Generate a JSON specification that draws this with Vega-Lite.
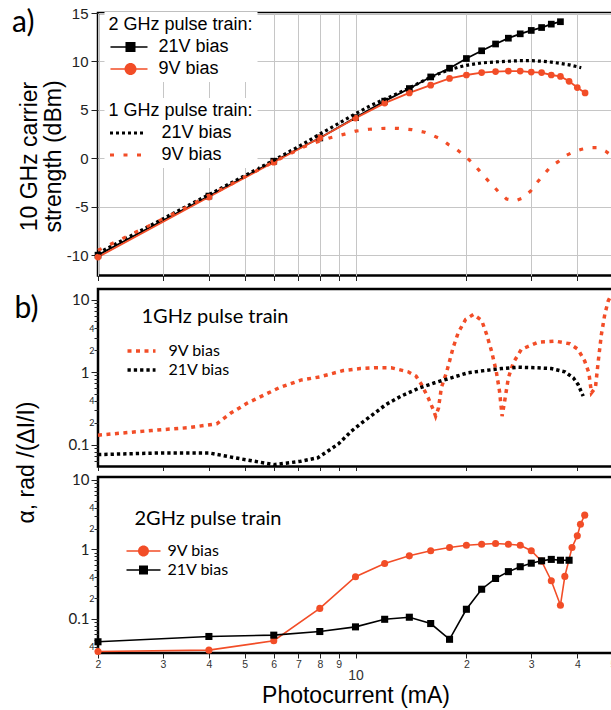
{
  "$schema": "https://vega.github.io/schema/vega-lite/v6.json",
  "autosize": {"type": "pad"},
  "padding": {"left": 10, "top": 4, "right": 0, "bottom": 0},
  "background": "white",
  "config": {
    "view": {"stroke": "black", "strokeWidth": 2.5},
    "axis": {"domain": false, "grid": false, "labelFlush": false, "labelOverlap": false, "tickColor": "#222", "labelColor": "#222", "titleColor": "black", "titleFontWeight": "normal", "labelFont": "Liberation Sans", "titleFont": "Liberation Sans"},
    "legend": {"titleFontWeight": "normal", "titleColor": "black", "labelColor": "black", "orient": "none", "symbolOpacity": 1, "titleLimit": 300},
    "title": {"fontWeight": "normal", "color": "black", "font": "Lato"}
  },
  "datasets": {
    "a2": [
      {"x": 2, "y": -10.0, "bias": "21V bias"}, {"x": 4, "y": -3.9, "bias": "21V bias"}, {"x": 6, "y": -0.3, "bias": "21V bias"}, {"x": 8, "y": 2.1, "bias": "21V bias"}, {"x": 10, "y": 4.2, "bias": "21V bias"}, {"x": 12, "y": 5.9, "bias": "21V bias"}, {"x": 14, "y": 7.2, "bias": "21V bias"}, {"x": 16, "y": 8.4, "bias": "21V bias"}, {"x": 18, "y": 9.3, "bias": "21V bias"}, {"x": 20, "y": 10.3, "bias": "21V bias"}, {"x": 22, "y": 11.1, "bias": "21V bias"}, {"x": 24, "y": 11.8, "bias": "21V bias"}, {"x": 26, "y": 12.4, "bias": "21V bias"}, {"x": 28, "y": 12.85, "bias": "21V bias"}, {"x": 30, "y": 13.2, "bias": "21V bias"}, {"x": 32, "y": 13.5, "bias": "21V bias"}, {"x": 34, "y": 13.85, "bias": "21V bias"}, {"x": 36, "y": 14.1, "bias": "21V bias"},
      {"x": 2, "y": -10.2, "bias": "9V bias"}, {"x": 4, "y": -4.0, "bias": "9V bias"}, {"x": 6, "y": -0.4, "bias": "9V bias"}, {"x": 8, "y": 2.1, "bias": "9V bias"}, {"x": 10, "y": 4.15, "bias": "9V bias"}, {"x": 12, "y": 5.7, "bias": "9V bias"}, {"x": 14, "y": 6.75, "bias": "9V bias"}, {"x": 16, "y": 7.55, "bias": "9V bias"}, {"x": 18, "y": 8.25, "bias": "9V bias"}, {"x": 20, "y": 8.6, "bias": "9V bias"}, {"x": 22, "y": 8.85, "bias": "9V bias"}, {"x": 24, "y": 8.95, "bias": "9V bias"}, {"x": 26, "y": 9.0, "bias": "9V bias"}, {"x": 28, "y": 9.0, "bias": "9V bias"}, {"x": 30, "y": 8.9, "bias": "9V bias"}, {"x": 32, "y": 8.85, "bias": "9V bias"}, {"x": 34, "y": 8.6, "bias": "9V bias"}, {"x": 36, "y": 8.45, "bias": "9V bias"}, {"x": 38, "y": 7.95, "bias": "9V bias"}, {"x": 40, "y": 7.3, "bias": "9V bias"}, {"x": 42, "y": 6.75, "bias": "9V bias"}
    ],
    "a1": [
      {"x": 2, "y": -9.8, "bias": "21V bias"}, {"x": 2.5, "y": -7.85, "bias": "21V bias"}, {"x": 3, "y": -6.25, "bias": "21V bias"}, {"x": 3.5, "y": -4.9, "bias": "21V bias"}, {"x": 4, "y": -3.75, "bias": "21V bias"}, {"x": 5, "y": -1.8, "bias": "21V bias"}, {"x": 6, "y": -0.2, "bias": "21V bias"}, {"x": 7, "y": 1.2, "bias": "21V bias"}, {"x": 8, "y": 2.5, "bias": "21V bias"}, {"x": 9, "y": 3.6, "bias": "21V bias"}, {"x": 10, "y": 4.6, "bias": "21V bias"}, {"x": 11, "y": 5.45, "bias": "21V bias"}, {"x": 12, "y": 6.1, "bias": "21V bias"}, {"x": 13, "y": 6.7, "bias": "21V bias"}, {"x": 14, "y": 7.25, "bias": "21V bias"}, {"x": 15, "y": 7.85, "bias": "21V bias"}, {"x": 16, "y": 8.35, "bias": "21V bias"}, {"x": 17, "y": 8.8, "bias": "21V bias"}, {"x": 18, "y": 9.15, "bias": "21V bias"}, {"x": 19, "y": 9.4, "bias": "21V bias"}, {"x": 20, "y": 9.6, "bias": "21V bias"}, {"x": 22, "y": 9.85, "bias": "21V bias"}, {"x": 24, "y": 9.95, "bias": "21V bias"}, {"x": 26, "y": 10.02, "bias": "21V bias"}, {"x": 28, "y": 10.08, "bias": "21V bias"}, {"x": 30, "y": 10.08, "bias": "21V bias"}, {"x": 32, "y": 10.02, "bias": "21V bias"}, {"x": 34, "y": 9.93, "bias": "21V bias"}, {"x": 36, "y": 9.8, "bias": "21V bias"}, {"x": 38, "y": 9.65, "bias": "21V bias"}, {"x": 40, "y": 9.45, "bias": "21V bias"}, {"x": 41, "y": 9.35, "bias": "21V bias"},
      {"x": 2, "y": -9.5, "bias": "9V bias"}, {"x": 2.24, "y": -8.6, "bias": "9V bias"}, {"x": 2.74, "y": -7.0, "bias": "9V bias"}, {"x": 3.37, "y": -5.3, "bias": "9V bias"}, {"x": 4.06, "y": -3.75, "bias": "9V bias"}, {"x": 5.05, "y": -1.85, "bias": "9V bias"}, {"x": 6.2, "y": -0.1, "bias": "9V bias"}, {"x": 6.75, "y": 0.6, "bias": "9V bias"}, {"x": 7.15, "y": 1.1, "bias": "9V bias"}, {"x": 7.7, "y": 1.55, "bias": "9V bias"}, {"x": 8.5, "y": 2.1, "bias": "9V bias"}, {"x": 9.35, "y": 2.5, "bias": "9V bias"}, {"x": 10, "y": 2.8, "bias": "9V bias"}, {"x": 10.9, "y": 3.0, "bias": "9V bias"}, {"x": 12, "y": 3.1, "bias": "9V bias"}, {"x": 13.1, "y": 3.08, "bias": "9V bias"}, {"x": 14.2, "y": 2.96, "bias": "9V bias"}, {"x": 15.4, "y": 2.69, "bias": "9V bias"}, {"x": 16.25, "y": 2.34, "bias": "9V bias"}, {"x": 17.1, "y": 1.96, "bias": "9V bias"}, {"x": 17.85, "y": 1.44, "bias": "9V bias"}, {"x": 18.8, "y": 0.93, "bias": "9V bias"}, {"x": 19.7, "y": 0.34, "bias": "9V bias"}, {"x": 20.6, "y": -0.35, "bias": "9V bias"}, {"x": 21.6, "y": -1.2, "bias": "9V bias"}, {"x": 22.5, "y": -2.0, "bias": "9V bias"}, {"x": 23.5, "y": -2.75, "bias": "9V bias"}, {"x": 24.5, "y": -3.5, "bias": "9V bias"}, {"x": 25.7, "y": -4.2, "bias": "9V bias"}, {"x": 27.1, "y": -4.4, "bias": "9V bias"}, {"x": 28.4, "y": -4.12, "bias": "9V bias"}, {"x": 29.9, "y": -3.37, "bias": "9V bias"}, {"x": 31.1, "y": -2.5, "bias": "9V bias"}, {"x": 32.4, "y": -1.72, "bias": "9V bias"}, {"x": 33.8, "y": -0.9, "bias": "9V bias"}, {"x": 35.5, "y": -0.35, "bias": "9V bias"}, {"x": 37.2, "y": 0.27, "bias": "9V bias"}, {"x": 39.2, "y": 0.68, "bias": "9V bias"}, {"x": 41.1, "y": 0.93, "bias": "9V bias"}, {"x": 43.3, "y": 1.1, "bias": "9V bias"}, {"x": 45.4, "y": 1.1, "bias": "9V bias"}, {"x": 47.7, "y": 0.75, "bias": "9V bias"}, {"x": 50, "y": 0.15, "bias": "9V bias"}
    ],
    "b1": [
      {"x": 2, "y": 0.135, "bias": "9V bias"}, {"x": 2.8, "y": 0.157, "bias": "9V bias"}, {"x": 3.5, "y": 0.171, "bias": "9V bias"}, {"x": 4.2, "y": 0.194, "bias": "9V bias"}, {"x": 4.6, "y": 0.275, "bias": "9V bias"}, {"x": 5.1, "y": 0.377, "bias": "9V bias"}, {"x": 6.2, "y": 0.608, "bias": "9V bias"}, {"x": 7.1, "y": 0.776, "bias": "9V bias"}, {"x": 8.0, "y": 0.86, "bias": "9V bias"}, {"x": 9.26, "y": 1.05, "bias": "9V bias"}, {"x": 10.3, "y": 1.12, "bias": "9V bias"}, {"x": 11.4, "y": 1.15, "bias": "9V bias"}, {"x": 12.5, "y": 1.15, "bias": "9V bias"}, {"x": 13.9, "y": 1.01, "bias": "9V bias"}, {"x": 14.6, "y": 0.88, "bias": "9V bias"}, {"x": 15.1, "y": 0.676, "bias": "9V bias"}, {"x": 15.75, "y": 0.442, "bias": "9V bias"}, {"x": 16.25, "y": 0.306, "bias": "9V bias"}, {"x": 16.5, "y": 0.247, "bias": "9V bias"}, {"x": 16.8, "y": 0.32, "bias": "9V bias"}, {"x": 17.1, "y": 0.608, "bias": "9V bias"}, {"x": 17.7, "y": 1.03, "bias": "9V bias"}, {"x": 18.4, "y": 2.16, "bias": "9V bias"}, {"x": 19.0, "y": 3.49, "bias": "9V bias"}, {"x": 19.9, "y": 5.33, "bias": "9V bias"}, {"x": 20.9, "y": 6.25, "bias": "9V bias"}, {"x": 22.0, "y": 5.17, "bias": "9V bias"}, {"x": 22.7, "y": 3.31, "bias": "9V bias"}, {"x": 23.4, "y": 1.95, "bias": "9V bias"}, {"x": 24.1, "y": 1.03, "bias": "9V bias"}, {"x": 24.6, "y": 0.547, "bias": "9V bias"}, {"x": 25.0, "y": 0.247, "bias": "9V bias"}, {"x": 25.4, "y": 0.398, "bias": "9V bias"}, {"x": 26.0, "y": 0.835, "bias": "9V bias"}, {"x": 26.8, "y": 1.34, "bias": "9V bias"}, {"x": 28.2, "y": 2.06, "bias": "9V bias"}, {"x": 31.3, "y": 2.59, "bias": "9V bias"}, {"x": 34.8, "y": 2.68, "bias": "9V bias"}, {"x": 38.2, "y": 2.46, "bias": "9V bias"}, {"x": 40.2, "y": 2.06, "bias": "9V bias"}, {"x": 41.9, "y": 1.42, "bias": "9V bias"}, {"x": 43.0, "y": 0.98, "bias": "9V bias"}, {"x": 43.7, "y": 0.518, "bias": "9V bias"}, {"x": 44.8, "y": 0.61, "bias": "9V bias"}, {"x": 45.6, "y": 1.42, "bias": "9V bias"}, {"x": 46.5, "y": 3.31, "bias": "9V bias"}, {"x": 47.5, "y": 6.25, "bias": "9V bias"}, {"x": 48.5, "y": 9.5, "bias": "9V bias"}, {"x": 49.5, "y": 11.8, "bias": "9V bias"},
      {"x": 2, "y": 0.073, "bias": "21V bias"}, {"x": 3, "y": 0.077, "bias": "21V bias"}, {"x": 4, "y": 0.077, "bias": "21V bias"}, {"x": 4.7, "y": 0.066, "bias": "21V bias"}, {"x": 6.0, "y": 0.053, "bias": "21V bias"}, {"x": 7.1, "y": 0.059, "bias": "21V bias"}, {"x": 7.9, "y": 0.066, "bias": "21V bias"}, {"x": 8.4, "y": 0.081, "bias": "21V bias"}, {"x": 9.0, "y": 0.103, "bias": "21V bias"}, {"x": 9.75, "y": 0.154, "bias": "21V bias"}, {"x": 10.4, "y": 0.2, "bias": "21V bias"}, {"x": 11.0, "y": 0.247, "bias": "21V bias"}, {"x": 12.1, "y": 0.358, "bias": "21V bias"}, {"x": 13.3, "y": 0.467, "bias": "21V bias"}, {"x": 14.8, "y": 0.596, "bias": "21V bias"}, {"x": 16.4, "y": 0.713, "bias": "21V bias"}, {"x": 18.2, "y": 0.835, "bias": "21V bias"}, {"x": 20.2, "y": 0.98, "bias": "21V bias"}, {"x": 22.4, "y": 1.05, "bias": "21V bias"}, {"x": 24.9, "y": 1.12, "bias": "21V bias"}, {"x": 27.6, "y": 1.17, "bias": "21V bias"}, {"x": 30.7, "y": 1.15, "bias": "21V bias"}, {"x": 34.0, "y": 1.12, "bias": "21V bias"}, {"x": 37.0, "y": 1.01, "bias": "21V bias"}, {"x": 39.0, "y": 0.835, "bias": "21V bias"}, {"x": 40.2, "y": 0.676, "bias": "21V bias"}, {"x": 41.5, "y": 0.467, "bias": "21V bias"}
    ],
    "b2": [
      {"x": 2, "y": 0.034, "bias": "9V bias"}, {"x": 4, "y": 0.0356, "bias": "9V bias"}, {"x": 6, "y": 0.0486, "bias": "9V bias"}, {"x": 8, "y": 0.142, "bias": "9V bias"}, {"x": 10, "y": 0.405, "bias": "9V bias"}, {"x": 12, "y": 0.63, "bias": "9V bias"}, {"x": 14, "y": 0.81, "bias": "9V bias"}, {"x": 16, "y": 0.96, "bias": "9V bias"}, {"x": 18, "y": 1.07, "bias": "9V bias"}, {"x": 20, "y": 1.15, "bias": "9V bias"}, {"x": 22, "y": 1.19, "bias": "9V bias"}, {"x": 24, "y": 1.22, "bias": "9V bias"}, {"x": 26, "y": 1.19, "bias": "9V bias"}, {"x": 28, "y": 1.15, "bias": "9V bias"}, {"x": 30, "y": 0.96, "bias": "9V bias"}, {"x": 32, "y": 0.68, "bias": "9V bias"}, {"x": 34, "y": 0.355, "bias": "9V bias"}, {"x": 36, "y": 0.158, "bias": "9V bias"}, {"x": 37, "y": 0.41, "bias": "9V bias"}, {"x": 38.7, "y": 1.07, "bias": "9V bias"}, {"x": 40, "y": 1.57, "bias": "9V bias"}, {"x": 40.8, "y": 2.31, "bias": "9V bias"}, {"x": 41.9, "y": 3.12, "bias": "9V bias"},
      {"x": 2, "y": 0.047, "bias": "21V bias"}, {"x": 4, "y": 0.056, "bias": "21V bias"}, {"x": 6, "y": 0.0585, "bias": "21V bias"}, {"x": 8, "y": 0.066, "bias": "21V bias"}, {"x": 10, "y": 0.077, "bias": "21V bias"}, {"x": 12, "y": 0.099, "bias": "21V bias"}, {"x": 14, "y": 0.106, "bias": "21V bias"}, {"x": 16, "y": 0.086, "bias": "21V bias"}, {"x": 18, "y": 0.051, "bias": "21V bias"}, {"x": 20, "y": 0.138, "bias": "21V bias"}, {"x": 22, "y": 0.268, "bias": "21V bias"}, {"x": 24, "y": 0.383, "bias": "21V bias"}, {"x": 26, "y": 0.48, "bias": "21V bias"}, {"x": 28, "y": 0.565, "bias": "21V bias"}, {"x": 30, "y": 0.635, "bias": "21V bias"}, {"x": 32, "y": 0.687, "bias": "21V bias"}, {"x": 34, "y": 0.72, "bias": "21V bias"}, {"x": 36, "y": 0.70, "bias": "21V bias"}, {"x": 38, "y": 0.70, "bias": "21V bias"}
    ]
  },
  "spacing": 13,
  "bounds": "flush",
  "resolve": {"scale": {"color": "independent", "shape": "independent", "strokeDash": "independent"}},
  "vconcat": [
    {
      "width": 515,
      "height": 262.5,
      "title": {"text": "a)", "orient": "top", "anchor": "start", "frame": "group", "offset": -32, "dx": -86, "fontSize": 30},
      "encoding": {
        "x": {"field": "x", "type": "quantitative", "scale": {"type": "log", "domain": [2, 50], "nice": false},
          "axis": {"values": [2, 3, 4, 5, 6, 7, 8, 9, 10, 20, 30, 40], "labels": false, "grid": true, "gridColor": "#c6c6c6", "gridWidth": 1, "tickSize": 5, "title": null}},
        "y": {"field": "y", "type": "quantitative", "scale": {"domain": [-12.1, 15], "nice": false, "zero": false},
          "axis": {"values": [-10, -5, 0, 5, 10, 15], "labelExpr": "datum.value < 0 ? '-' + abs(datum.value) : '' + datum.value", "grid": true, "gridColor": "#c6c6c6", "gridWidth": 1, "tickSize": 7, "labelFontSize": 15, "labelPadding": 3, "title": ["10 GHz carrier", "strength (dBm)"], "titleFontSize": 23, "titleLineHeight": 24, "titleX": -57, "titleY": 143}}
      },
      "layer": [
        {
          "data": {"name": "a2"},
          "encoding": {
            "color": {"field": "bias", "type": "nominal", "scale": {"domain": ["21V bias", "9V bias"], "range": ["black", "#f24d27"]},
              "legend": {"title": "2 GHz pulse train:", "orient": "none", "legendX": 6.5, "legendY": -1, "padding": 4, "fillColor": "white", "titleFont": "Liberation Sans", "titleFontSize": 18, "titlePadding": 4, "labelFont": "Liberation Sans", "labelFontSize": 18, "labelOffset": 32, "rowPadding": 4, "symbolSize": 144, "symbolStrokeWidth": 0, "symbolOpacity": 1}}
          },
          "layer": [
            {"mark": {"type": "point", "filled": true, "opacity": 0, "size": 144},
              "encoding": {"shape": {"field": "bias", "type": "nominal",
                "scale": {"domain": ["21V bias", "9V bias"], "range": ["M-1.17,-0.13H5V0.13H-1.17Z M1.33,-0.83H3V0.83H1.33Z", "M-1.17,-0.13H5V0.13H-1.17Z M3.17,0A1,1,0,1,1,1.17,0A1,1,0,1,1,3.17,0Z"]},
                "legend": {"title": "2 GHz pulse train:", "orient": "none", "legendX": 6.5, "legendY": -1, "padding": 4, "fillColor": "white", "titleFont": "Liberation Sans", "titleFontSize": 18, "titlePadding": 4, "labelFont": "Liberation Sans", "labelFontSize": 18, "labelOffset": 32, "rowPadding": 4, "symbolSize": 144, "symbolStrokeWidth": 0, "symbolOpacity": 1}}}},
            {"mark": {"type": "line", "strokeWidth": 1.8}},
            {"mark": {"type": "point", "filled": true, "opacity": 1, "size": 45},
              "encoding": {"shape": {"condition": {"test": "datum.bias === '21V bias'", "value": "square"}, "value": "circle"}}}
          ]
        },
        {
          "data": {"name": "a1"},
          "mark": {"type": "line", "strokeWidth": 3.2, "strokeCap": "butt"},
          "encoding": {
            "color": {"field": "bias", "type": "nominal", "scale": {"domain": ["21V bias", "9V bias"], "range": ["black", "#f24d27"]},
              "legend": {"title": "1 GHz pulse train:", "orient": "none", "legendX": 6.5, "legendY": 85, "padding": 4, "fillColor": "white", "titleFont": "Liberation Sans", "titleFontSize": 18, "titlePadding": 4, "labelFont": "Liberation Sans", "labelFontSize": 18, "labelOffset": 35, "rowPadding": 4, "symbolSize": 144, "symbolStrokeWidth": 3, "symbolType": "M-1.25,0H4.6"}},
            "strokeDash": {"field": "bias", "type": "nominal", "scale": {"domain": ["21V bias", "9V bias"], "range": [[3, 3], [4, 9.5]]},
              "legend": {"title": "1 GHz pulse train:", "orient": "none", "legendX": 6.5, "legendY": 85, "padding": 4, "fillColor": "white", "titleFont": "Liberation Sans", "titleFontSize": 18, "titlePadding": 4, "labelFont": "Liberation Sans", "labelFontSize": 18, "labelOffset": 35, "rowPadding": 4, "symbolSize": 144, "symbolStrokeWidth": 3, "symbolType": "M-1.25,0H4.6"}}
          }
        }
      ],
      "resolve": {"scale": {"color": "independent", "shape": "independent", "strokeDash": "independent"}}
    },
    {
      "spacing": 10,
      "bounds": "flush",
      "resolve": {"scale": {"color": "independent", "shape": "independent", "strokeDash": "independent"}},
      "vconcat": [
        {
          "width": 515,
          "height": 177.5,
          "title": {"text": "b)", "orient": "top", "anchor": "start", "frame": "group", "offset": -37, "dx": -83.5, "fontSize": 30},
          "data": {"name": "b1"},
          "mark": {"type": "line", "strokeWidth": 3.5, "strokeCap": "butt"},
          "encoding": {
            "x": {"field": "x", "type": "quantitative", "scale": {"type": "log", "domain": [2, 50], "nice": false},
              "axis": {"values": [2, 3, 4, 5, 6, 7, 8, 9, 10, 20, 30, 40], "labels": false, "tickSize": 4, "title": null}},
            "y": {"field": "y", "type": "quantitative", "scale": {"type": "log", "domain": [0.05, 14], "nice": false},
              "axis": {"values": [0.06, 0.07, 0.08, 0.09, 0.1, 0.2, 0.3, 0.4, 0.5, 0.6, 0.7, 0.8, 0.9, 1, 2, 3, 4, 5, 6, 7, 8, 9, 10],
                "labelExpr": "datum.value==10?'10':datum.value==1?'1':datum.value==0.1?'0.1':(datum.value==4||datum.value==0.4||datum.value==0.04)?'4':(datum.value==2||datum.value==0.2)?'2':''",
                "labelFont": "Lato",
                "labelFontSize": {"condition": {"test": "datum.value==10||datum.value==1||datum.value==0.1", "value": 15}, "value": 9},
                "tickSize": {"condition": {"test": "datum.value==10||datum.value==1||datum.value==0.1", "value": 7}, "value": 4},
                "labelPadding": {"condition": {"test": "datum.value==10||datum.value==1||datum.value==0.1", "value": 2}, "value": 0},
                "title": "α, rad /(ΔI/I)", "titleFontSize": 23, "titleX": -60, "titleY": 173}},
            "color": {"field": "bias", "type": "nominal", "scale": {"domain": ["9V bias", "21V bias"], "range": ["#f24d27", "black"]},
              "legend": {"title": "1GHz pulse train", "orient": "none", "legendX": 43.5, "legendY": 18, "padding": 0, "titleFont": "Lato", "titleFontSize": 20, "titlePadding": 16, "labelFont": "Lato", "labelFontSize": 16, "labelOffset": 11, "rowPadding": 3, "symbolSize": 100, "symbolStrokeWidth": 3.5, "symbolType": "M-4.4,0H1.2"}},
            "strokeDash": {"field": "bias", "type": "nominal", "scale": {"domain": ["9V bias", "21V bias"], "range": [[4, 4.5], [3.3, 3]]},
              "legend": {"title": "1GHz pulse train", "orient": "none", "legendX": 43.5, "legendY": 18, "padding": 0, "titleFont": "Lato", "titleFontSize": 20, "titlePadding": 16, "labelFont": "Lato", "labelFontSize": 16, "labelOffset": 11, "rowPadding": 3, "symbolSize": 100, "symbolStrokeWidth": 3.5, "symbolType": "M-4.4,0H1.2"}}
          }
        },
        {
          "width": 515,
          "height": 176,
          "data": {"name": "b2"},
          "encoding": {
            "x": {"field": "x", "type": "quantitative", "scale": {"type": "log", "domain": [2, 50], "nice": false},
              "axis": {"values": [2, 3, 4, 5, 6, 7, 8, 9, 10, 20, 30, 40, 50],
                "labelExpr": "datum.value == 10 ? ['', '10'] : datum.value >= 20 ? format(datum.value/10, 'd') : format(datum.value, 'd')",
                "labelFontSize": {"condition": {"test": "datum.value==10", "value": 14}, "value": 10.5},
                "labelLineHeight": 9,
                "labelPadding": 1,
                "labelColor": "#333",
                "tickSize": 5, "title": "Photocurrent (mA)", "titleFontSize": 23, "titlePadding": 2}},
            "y": {"field": "y", "type": "quantitative", "scale": {"type": "log", "domain": [0.0324, 11.04], "nice": false},
              "axis": {"values": [0.04, 0.05, 0.06, 0.07, 0.08, 0.09, 0.1, 0.2, 0.3, 0.4, 0.5, 0.6, 0.7, 0.8, 0.9, 1, 2, 3, 4, 5, 6, 7, 8, 9, 10],
                "labelExpr": "datum.value==10?'10':datum.value==1?'1':datum.value==0.1?'0.1':(datum.value==4||datum.value==0.4||datum.value==0.04)?'4':(datum.value==2||datum.value==0.2)?'2':''",
                "labelFont": "Lato",
                "labelFontSize": {"condition": {"test": "datum.value==10||datum.value==1||datum.value==0.1", "value": 15}, "value": 9},
                "tickSize": {"condition": {"test": "datum.value==10||datum.value==1||datum.value==0.1", "value": 7}, "value": 4},
                "labelPadding": {"condition": {"test": "datum.value==10||datum.value==1||datum.value==0.1", "value": 2}, "value": 0},
                "title": null}},
            "color": {"field": "bias", "type": "nominal", "scale": {"domain": ["9V bias", "21V bias"], "range": ["#f24d27", "black"]},
              "legend": {"title": "2GHz pulse train", "orient": "none", "legendX": 36.5, "legendY": 32, "padding": 0, "titleFont": "Lato", "titleFontSize": 20, "titlePadding": 14, "labelFont": "Lato", "labelFontSize": 16, "labelOffset": 17, "rowPadding": 3, "symbolSize": 100, "symbolStrokeWidth": 0, "symbolOpacity": 1}}
          },
          "layer": [
            {"mark": {"type": "point", "filled": true, "opacity": 0, "size": 100},
              "encoding": {"shape": {"field": "bias", "type": "nominal",
                "scale": {"domain": ["9V bias", "21V bias"], "range": ["M-3.2,-0.16H3.6V0.16H-3.2Z M1.3,0A1.1,1.1,0,1,1,-0.9,0A1.1,1.1,0,1,1,1.3,0Z", "M-3.2,-0.16H3.6V0.16H-3.2Z M-0.7,-0.9H1.1V0.9H-0.7Z"]},
                "legend": {"title": "2GHz pulse train", "orient": "none", "legendX": 36.5, "legendY": 32, "padding": 0, "titleFont": "Lato", "titleFontSize": 20, "titlePadding": 14, "labelFont": "Lato", "labelFontSize": 16, "labelOffset": 17, "rowPadding": 3, "symbolSize": 100, "symbolStrokeWidth": 0, "symbolOpacity": 1}}}},
            {"mark": {"type": "line", "strokeWidth": 1.6}},
            {"mark": {"type": "point", "filled": true, "opacity": 1, "size": 50},
              "encoding": {"shape": {"condition": {"test": "datum.bias === '21V bias'", "value": "square"}, "value": "circle"}}}
          ]
        }
      ]
    }
  ]
}
